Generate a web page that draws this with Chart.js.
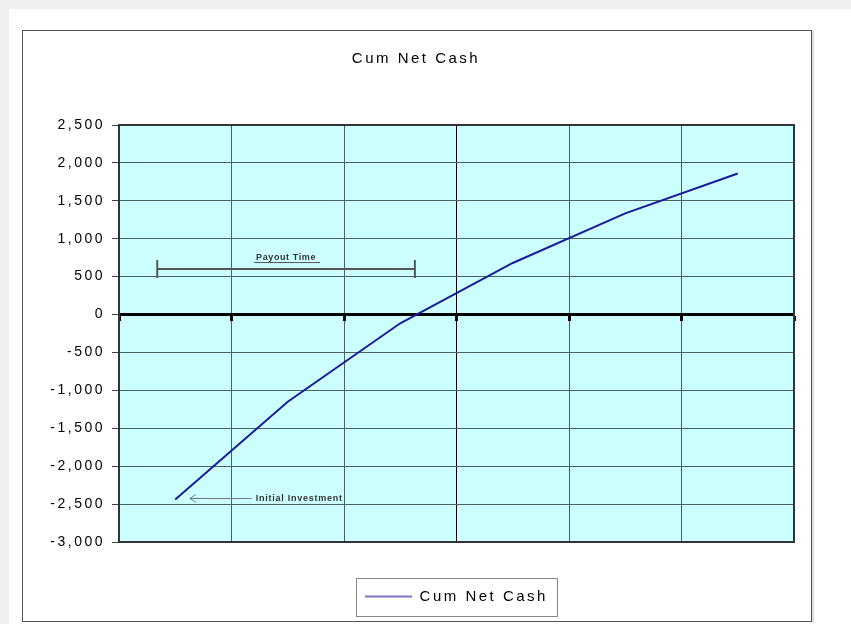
<!DOCTYPE html>
<html><head><meta charset="utf-8">
<script src="https://cdn.jsdelivr.net/npm/chart.js@4/dist/chart.umd.min.js"></script>
<style>html,body{margin:0;padding:0;background:#fff;}canvas{display:block}</style>
</head><body>
<canvas id="c" width="851" height="624"></canvas>
<script>
// ---- data ----
const periods = ['1', '2', '3', '4', '5', '6'];
const cumNetCash = [-2440, -1150, -115, 680, 1335, 1860];
const yMin = -3000, yMax = 2500, yStep = 500;
const chartTitle = 'Cum Net Cash';
const seriesName = 'Cum Net Cash';
// annotations (in data units: category index / value)
const payoutStart = -0.16, payoutEnd = 2.13, payoutLevel = 600, payoutLabel = 'Payout Time';
const investFrom = 0.13, investTo = 0.68, investLevel = -2420, investLabel = 'Initial Investment';

const FONT = "'Liberation Sans', Arial, sans-serif";
const SPACING = '2.5px';

const framePlugin = {
  id: 'frame',
  beforeUpdate(chart) { chart.ctx.letterSpacing = SPACING; },
  beforeLayout(chart) { chart.ctx.letterSpacing = SPACING; },
  beforeDraw(chart) {
    const ctx = chart.ctx, a = chart.chartArea;
    ctx.save();
    ctx.fillStyle = '#fff';
    ctx.fillRect(0, 0, chart.width, chart.height);
    ctx.fillStyle = '#efefef';
    ctx.fillRect(0, 0, chart.width, 9);
    ctx.fillRect(0, 0, 9, chart.height);
    ctx.strokeStyle = '#555';
    ctx.lineWidth = 1;
    ctx.strokeRect(22.5, 30.5, 789, 591);
    ctx.strokeStyle = '#bbb';
    ctx.beginPath(); ctx.moveTo(813, 31); ctx.lineTo(813, 623); ctx.stroke();
    ctx.fillStyle = '#ccffff';
    ctx.fillRect(a.left, a.top, a.right - a.left, a.bottom - a.top);
    ctx.restore();
    ctx.letterSpacing = SPACING;
  },
  afterDatasetsDraw(chart) {
    const ctx = chart.ctx, a = chart.chartArea;
    const xs = chart.scales.x, ys = chart.scales.y;
    ctx.save();
    ctx.strokeStyle = '#333';
    ctx.lineWidth = 2;
    ctx.strokeRect(a.left, a.top, a.right - a.left, a.bottom - a.top);

    // payout time bar
    const px1 = xs.getPixelForValue(payoutStart), px2 = xs.getPixelForValue(payoutEnd);
    const py = ys.getPixelForValue(payoutLevel);
    ctx.strokeStyle = '#555';
    ctx.lineWidth = 2;
    ctx.beginPath();
    ctx.moveTo(px1, py); ctx.lineTo(px2, py);
    ctx.moveTo(px1, py - 9); ctx.lineTo(px1, py + 9);
    ctx.moveTo(px2, py - 9); ctx.lineTo(px2, py + 9);
    ctx.stroke();
    ctx.letterSpacing = '0.6px';
    ctx.font = "bold 9px " + FONT;
    ctx.fillStyle = '#333';
    ctx.textAlign = 'center';
    ctx.textBaseline = 'alphabetic';
    const lx = (px1 + px2) / 2;
    ctx.fillText(payoutLabel, lx, py - 9);
    const tw = ctx.measureText(payoutLabel).width;
    ctx.lineWidth = 1;
    ctx.strokeStyle = '#555';
    ctx.beginPath(); ctx.moveTo(lx - tw / 2 - 2, py - 6.5); ctx.lineTo(lx + tw / 2 + 4, py - 6.5); ctx.stroke();

    // initial investment arrow
    const ax1 = xs.getPixelForValue(investFrom), ax2 = xs.getPixelForValue(investTo);
    const ay = Math.round(ys.getPixelForValue(investLevel)) + 0.5;
    ctx.strokeStyle = '#777';
    ctx.lineWidth = 1;
    ctx.beginPath();
    ctx.moveTo(ax2, ay); ctx.lineTo(ax1, ay);
    ctx.moveTo(ax1 + 6, ay - 4); ctx.lineTo(ax1, ay); ctx.lineTo(ax1 + 6, ay + 4);
    ctx.stroke();
    ctx.letterSpacing = '0.75px';
    ctx.textAlign = 'left';
    ctx.textBaseline = 'middle';
    ctx.fillStyle = '#333';
    ctx.fillText(investLabel, ax2 + 4, ay);
    ctx.restore();
    ctx.letterSpacing = SPACING;
  },
  afterDraw(chart) {
    const ctx = chart.ctx;
    const hb = chart.legend && chart.legend.legendHitBoxes && chart.legend.legendHitBoxes[0];
    if (!hb) return;
    ctx.save();
    ctx.strokeStyle = '#888';
    ctx.lineWidth = 1;
    const cy = hb.top + hb.height / 2;
    ctx.strokeRect(Math.round(hb.left - 9) + 0.5, Math.round(cy - 19) + 0.5, Math.round(hb.width + 18), 38);
    ctx.restore();
  }
};

new Chart(document.getElementById('c'), {
  type: 'line',
  data: {
    labels: periods,
    datasets: [{
      label: seriesName,
      data: cumNetCash,
      borderColor: '#1a1a9e',
      backgroundColor: '#1a1a9e',
      borderWidth: 2,
      pointRadius: 0,
      tension: 0,
      fill: false
    }]
  },
  options: {
    responsive: false,
    devicePixelRatio: 1,
    animation: false,
    layout: { padding: { left: 38, right: 57, top: 0, bottom: 10 } },
    plugins: {
      tooltip: { enabled: false },
      title: {
        display: true,
        text: chartTitle,
        color: '#000',
        font: { family: FONT, size: 15, weight: 'normal', lineHeight: 1.2 },
        padding: { top: 50, bottom: 57 }
      },
      legend: {
        position: 'bottom',
        fullSize: false,
        labels: {
          usePointStyle: true,
          pointStyle: 'line',
          pointStyleWidth: 47,
          color: '#000',
          padding: 47,
          font: { family: FONT, size: 15 },
          generateLabels(chart) {
            const items = Chart.defaults.plugins.legend.labels.generateLabels(chart);
            items.forEach(i => { i.strokeStyle = '#7777c8'; i.fillStyle = '#7777c8'; i.lineWidth = 2; i.pointStyle = 'line'; });
            return items;
          }
        }
      }
    },
    scales: {
      x: {
        type: 'category',
        offset: true,
        position: { y: 0 },
        border: { display: true, color: '#000', width: 3 },
        grid: {
          offset: true,
          color: c => c.index === 3 ? '#000' : ((c.index === 0 || c.index === 6) ? '#333' : '#4a6262'),
          lineWidth: 1,
          tickColor: '#000',
          tickWidth: 3,
          tickLength: 5
        },
        ticks: { display: false }
      },
      y: {
        min: yMin,
        max: yMax,
        border: { display: true, color: '#333', width: 2 },
        grid: {
          color: c => c.tick && c.tick.value === 0 ? '#000' : '#4a6262',
          lineWidth: 1,
          tickColor: '#444',
          tickLength: 7
        },
        ticks: {
          stepSize: yStep,
          color: '#000',
          padding: 7,
          font: { family: FONT, size: 14 },
          callback: v => Number(v).toLocaleString('en-US')
        },
        afterFit(scale) { scale.width = 81; }
      }
    }
  },
  plugins: [framePlugin]
});
</script>
</body></html>
